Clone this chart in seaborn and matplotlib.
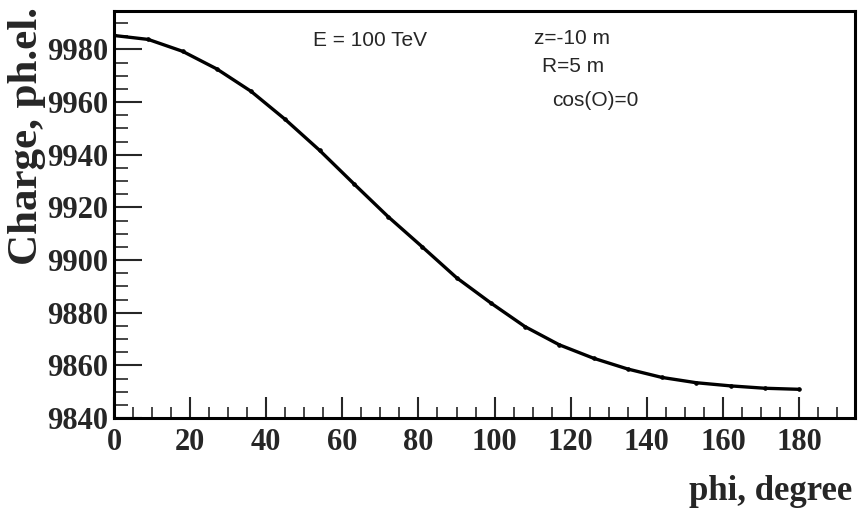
import matplotlib
matplotlib.use("Agg")
import matplotlib.pyplot as plt
import seaborn as sns
import pandas as pd
from matplotlib.ticker import MultipleLocator

phi_deg = [0, 9, 18, 27, 36, 45, 54, 63, 72, 81, 90, 99, 108, 117, 126, 135, 144, 153, 162, 171, 180]
charge = [9985.3, 9983.8, 9979.3, 9972.6, 9964.1, 9953.4, 9941.7, 9929.0, 9916.5, 9905.0,
          9893.3, 9883.7, 9874.7, 9867.8, 9862.7, 9858.6, 9855.4, 9853.4, 9852.2, 9851.3, 9850.9]
x_label = "phi, degree"
y_label = "Charge, ph.el."
annotations = ["E = 100 TeV", "z=-10 m", "R=5 m", "cos(O)=0"]

sns.set_style("ticks")
plt.rcParams['font.family'] = ['Liberation Serif', 'DejaVu Serif']

df = pd.DataFrame({"phi": phi_deg, "charge": charge})

fig = plt.figure(figsize=(8.59, 5.11), dpi=100)
W, H = 859, 511
ax = fig.add_axes([114 / W, 1 - 418 / H, (855 - 114) / W, (418 - 11) / H])

sns.lineplot(data=df, x="phi", y="charge", ax=ax, color="black", linewidth=2.4,
             marker="o", markersize=2.5, markeredgecolor="black")

ax.set_xlim(0, 194.7)
ax.set_ylim(9840, 9994.6)

ax.xaxis.set_major_locator(MultipleLocator(20))
ax.xaxis.set_minor_locator(MultipleLocator(5))
ax.yaxis.set_major_locator(MultipleLocator(20))
ax.yaxis.set_minor_locator(MultipleLocator(5))

ax.tick_params(axis="both", which="major", direction="in", length=15, width=1.5,
               top=False, right=False, labelsize=22)
ax.tick_params(axis="both", which="minor", direction="in", length=8, width=1.2,
               top=False, right=False)
ax.tick_params(axis="y", which="major", length=20, pad=4)
ax.tick_params(axis="x", which="major", pad=7)
ax.tick_params(axis="y", which="minor", length=10)
for lab in ax.get_xticklabels() + ax.get_yticklabels():
    lab.set_fontweight("bold")

ax.set_xticks([0, 20, 40, 60, 80, 100, 120, 140, 160, 180])
ax.set_xticklabels([str(v) for v in [0, 20, 40, 60, 80, 100, 120, 140, 160, 180]],
                   fontweight="bold", fontsize=22)

for s in ax.spines.values():
    s.set_linewidth(2.2)
    s.set_color("black")

ax.set_xlabel("")
ax.set_ylabel("")

fig.text(852 / W, 1 - 492 / H, x_label, ha="right", va="center",
         fontsize=25, fontweight="bold")
fig.text(27 / W, 1 - 136 / H, y_label, ha="center", va="center", rotation=90,
         fontsize=31, fontweight="bold")

sans = ['Liberation Sans', 'DejaVu Sans']
fig.text(313 / W, 1 - 40 / H, annotations[0], ha="left", va="center", fontsize=15, family=sans)
fig.text(534 / W, 1 - 38 / H, annotations[1], ha="left", va="center", fontsize=15, family=sans)
fig.text(542 / W, 1 - 66 / H, annotations[2], ha="left", va="center", fontsize=15, family=sans)
fig.text(552 / W, 1 - 100 / H, annotations[3], ha="left", va="center", fontsize=15, family=sans)

fig.savefig("out.png", dpi=100)
